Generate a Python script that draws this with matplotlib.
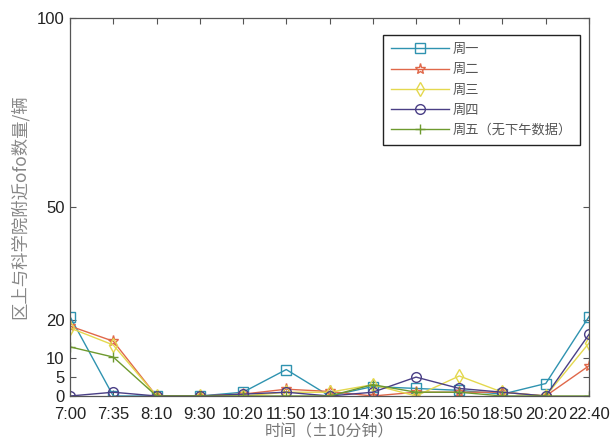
import matplotlib
matplotlib.use("Agg")
import matplotlib.pyplot as plt
import numpy as np

plt.rcParams['font.family'] = ['Liberation Sans', 'Noto Sans CJK SC', 'DejaVu Sans']

times = ["7:00", "7:35", "8:10", "9:30", "10:20", "11:50", "13:10", "14:30",
         "15:20", "16:50", "18:50", "20:20", "22:40"]
mon = [21, 0, 0, 0, 1, 7, 0, 2.5, 2, 1.5, 0.5, 3.3, 21]
tue = [18.5, 14.5, 0, 0, 0.5, 1.8, 1.2, 0, 1, 1, 1, 0, 8]
wed = [18, 13.5, 0, 0, 0, 1, 1, 3, 0, 5.3, 1, 0, 14]
thu = [0, 1, 0, 0, 0.5, 1, 0, 1, 5, 2, 1, 0, 16.3]
fri = [13, 10.3, 0, 0, 0, 0, 0, 3, 1, 1, 0, 0, 0]

labels = ["周一", "周二", "周三", "周四", "周五（无下午数据）"]
series = [mon, tue, wed, thu, fri]
colors = ["#2f93b0", "#e0684a", "#e4d84e", "#4a3f86", "#6e9a2e"]
markers = ["s", "*", "d", "o", "+"]
yticks = [0, 5, 10, 20, 50, 100]

fig = plt.figure(figsize=(6.12, 4.46), dpi=100)
ax = fig.add_axes([0.1144, 0.1121, 0.848, 0.8475])
x = np.arange(len(times))
for vals, lab, c, m in zip(series, labels, colors, markers):
    ax.plot(x, vals, color=c, marker=m, markersize=7 if m != "*" else 8,
            markerfacecolor="none", markeredgecolor=c, linewidth=1.0,
            markeredgewidth=1.0, label=lab)

ax.set_xlim(0, len(times) - 1)
ax.set_ylim(0, 100)
ax.set_xticks(x)
ax.set_xticklabels(times)
ax.set_yticks(yticks)
ax.tick_params(direction="in", top=True, right=True, labelsize=12,
               colors="#555555", labelcolor="#222222", length=4)
ax.tick_params(axis="x", pad=8)
ax.tick_params(axis="y", pad=4)
for s in ax.spines.values():
    s.set_color("#555555")
    s.set_linewidth(0.9)

ax.set_xlabel("时间（±10分钟）", fontsize=11.5, color="#777777",
              family=['Noto Sans CJK SC', 'DejaVu Sans'], labelpad=1)
ax.set_ylabel("区上与科学院附近ofo数量/辆", fontsize=12.5, color="#888888",
              family=['Noto Sans CJK SC', 'DejaVu Sans'], labelpad=6)

leg = ax.legend(loc="upper right", bbox_to_anchor=(0.9824, 0.955),
                prop={'family': ['Noto Sans CJK SC', 'DejaVu Sans'], 'size': 9.5},
                fancybox=False, edgecolor="#222222", framealpha=1,
                handlelength=4.4, borderpad=0.6, labelspacing=0.55,
                handletextpad=0.3, borderaxespad=0)
leg.get_frame().set_linewidth(1.0)
for t in leg.get_texts():
    t.set_color("#555555")

fig.savefig("out.png", dpi=100)
